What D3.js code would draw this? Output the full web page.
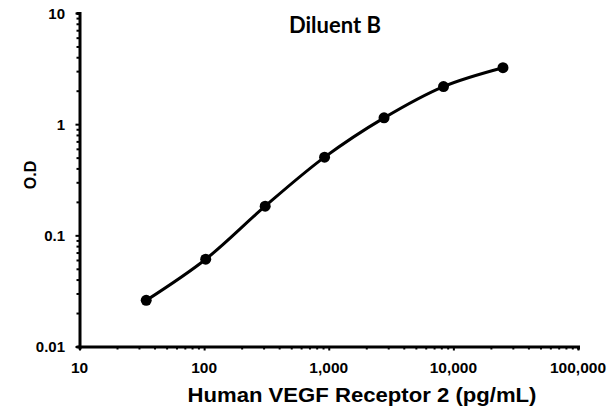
<!DOCTYPE html>
<html>
<head>
<meta charset="utf-8">
<script src="https://cdn.jsdelivr.net/npm/d3@7"></script>
<style>
  body { margin: 0; background: #fff; }
  text { font-family: "Liberation Sans", Arial, sans-serif; font-weight: bold; fill: #000; }
</style>
</head>
<body>
<div id="chart"></div>
<script>
"use strict";
// standard curve, 3-fold dilutions
var conc = [34.3, 103, 309, 926, 2778, 8333, 25000];
var od = [0.026, 0.061, 0.183, 0.505, 1.14, 2.18, 3.22];
var xTicks = [10, 100, 1000, 10000, 100000];
var xTickLabels = ["10", "100", "1,000", "10,000", "100,000"];
var yTicks = [0.01, 0.1, 1, 10];
var yTickLabels = ["0.01", "0.1", "1", "10"];

var width = 609, height = 408;
var plotLeft = 79.5, plotRight = 578, plotTop = 13, plotBottom = 346.5;

var svg = d3.select("#chart").append("svg")
  .attr("width", width)
  .attr("height", height);

var x = d3.scaleLog().domain([10, 100000]).range([plotLeft, plotRight]);
var y = d3.scaleLog().domain([0.01, 10]).range([plotBottom, plotTop]);

// minor ticks (2..9 per decade), majors a bit longer
var xAxis = d3.axisBottom(x).tickValues(x.ticks()).tickSize(3).tickFormat("");
var yAxis = d3.axisLeft(y).tickValues(y.ticks()).tickSize(3).tickFormat("");

var gx = svg.append("g").attr("transform", "translate(0," + plotBottom + ")").call(xAxis);
var gy = svg.append("g").attr("transform", "translate(" + plotLeft + ",0)").call(yAxis);

[gx, gy].forEach(function(g) {
  g.select(".domain").attr("stroke", "#000").attr("stroke-width", 3);
  g.selectAll(".tick line").attr("stroke", "#000").attr("stroke-width", 2);
});
gx.selectAll(".tick line").filter(function(d) { return xTicks.indexOf(d) >= 0; }).attr("y2", 4);
gy.selectAll(".tick line").filter(function(d) { return yTicks.indexOf(d) >= 0; }).attr("x2", -4);

// tick labels
svg.selectAll(".xlab").data(xTicks).enter().append("text")
  .attr("x", function(d) { return x(d); })
  .attr("y", 372.5)
  .attr("text-anchor", "middle")
  .style("font-size", "15.5px")
  .text(function(d, i) { return xTickLabels[i]; });

svg.selectAll(".ylab").data(yTicks).enter().append("text")
  .attr("x", 65)
  .attr("y", function(d) { return y(d) + 5.5; })
  .attr("text-anchor", "end")
  .style("font-size", "15px")
  .text(function(d, i) { return yTickLabels[i]; });

// axis titles
svg.append("text")
  .attr("x", 362)
  .attr("y", 401.5)
  .attr("text-anchor", "middle")
  .attr("textLength", 349)
  .attr("lengthAdjust", "spacingAndGlyphs")
  .style("font-size", "21px")
  .text("Human VEGF Receptor 2 (pg/mL)");

svg.append("text")
  .attr("transform", "translate(35.5,175) rotate(-90)")
  .attr("text-anchor", "middle")
  .style("font-size", "16px")
  .text("O.D");

// title
svg.append("text")
  .attr("x", 335)
  .attr("y", 33)
  .attr("text-anchor", "middle")
  .style("font-family", "Lato, 'Open Sans', sans-serif")
  .style("font-size", "22px")
  .text("Diluent B");

var pts = conc.map(function(c, i) { return [c, od[i]]; });

var line = d3.line()
  .x(function(d) { return x(d[0]); })
  .y(function(d) { return y(d[1]); })
  .curve(d3.curveCatmullRom);

svg.append("path")
  .datum(pts)
  .attr("d", line)
  .attr("fill", "none")
  .attr("stroke", "#000")
  .attr("stroke-width", 3);

svg.selectAll(".pt").data(pts).enter().append("circle")
  .attr("cx", function(d) { return x(d[0]); })
  .attr("cy", function(d) { return y(d[1]); })
  .attr("r", 5.5)
  .attr("fill", "#000");
</script>
</body>
</html>
